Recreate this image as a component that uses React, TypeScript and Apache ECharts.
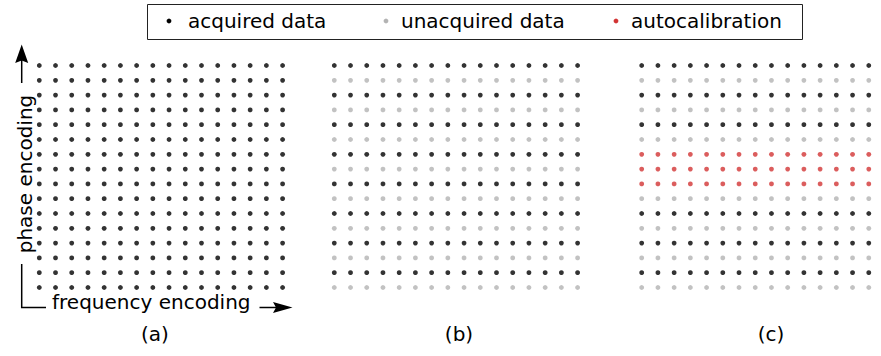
import React, { useEffect, useRef } from "react";
import * as echarts from "echarts";

// Sampling patterns of k-space: one row kind per phase-encoding line (top to bottom).
const ROW_COUNT = 16;
const COLUMN_COUNTS = [16, 16, 15];
const PANEL_LABELS = ["(a)", "(b)", "(c)"];

const FULL_ROWS = [
  "acq", "acq", "acq", "acq", "acq", "acq", "acq", "acq",
  "acq", "acq", "acq", "acq", "acq", "acq", "acq", "acq",
];
const UNDERSAMPLED_ROWS = [
  "acq", "un", "acq", "un", "acq", "un", "acq", "un",
  "acq", "un", "acq", "un", "acq", "un", "acq", "un",
];
const AUTOCAL_ROWS = [
  "acq", "un", "acq", "un", "acq", "un", "cal", "cal",
  "cal", "un", "acq", "un", "acq", "un", "acq", "un",
];
const PANEL_ROWS = [FULL_ROWS, UNDERSAMPLED_ROWS, AUTOCAL_ROWS];

const KINDS = ["acq", "un", "cal"];
const KIND_NAMES = ["acquired data", "unacquired data", "autocalibration"];
const KIND_COLORS = ["#000000", "#b3b3b3", "#d23434"];

const FONT = "DejaVu Sans";

export default function App() {
  const ref = useRef<HTMLDivElement>(null);

  useEffect(() => {
    if (!ref.current) return;
    const chart = echarts.init(ref.current, undefined, { renderer: "svg" });

    const dx = 16.22;
    const dy = 14.8;
    const firstX = [39.3, 334.3, 641.7];
    const firstY = 65.5;

    const grids = COLUMN_COUNTS.map((n, p) => ({
      left: firstX[p] - dx / 2,
      top: firstY - dy / 2,
      width: n * dx,
      height: ROW_COUNT * dy,
    }));
    const xAxes = COLUMN_COUNTS.map((n, p) => ({
      type: "value",
      gridIndex: p,
      min: -0.5,
      max: n - 0.5,
      show: false,
    }));
    const yAxes = COLUMN_COUNTS.map((_, p) => ({
      type: "value",
      gridIndex: p,
      min: -0.5,
      max: ROW_COUNT - 0.5,
      inverse: true,
      show: false,
    }));

    const series: any[] = [];
    PANEL_ROWS.forEach((rows, p) => {
      KINDS.forEach((kind, k) => {
        const data: number[][] = [];
        rows.forEach((rk, r) => {
          if (rk !== kind) return;
          for (let c = 0; c < COLUMN_COUNTS[p]; c++) data.push([c, r]);
        });
        if (!data.length) return;
        series.push({
          type: "scatter",
          name: KIND_NAMES[k],
          xAxisIndex: p,
          yAxisIndex: p,
          symbol: "circle",
          symbolSize: 4.8,
          itemStyle: { color: KIND_COLORS[k] },
          clip: false,
          silent: true,
          data,
        });
      });
    });

    const textStyle = (text: string, x: number, y: number, align = "left") => ({
      type: "text",
      x,
      y,
      style: {
        text,
        font: `20px "${FONT}"`,
        fill: "#000",
        align,
        verticalAlign: "middle",
      },
    });

    // Legend box with one marker per sample kind
    const legendDotX = [169, 386, 616];
    const legendTextX = [188, 401, 631];
    const legend: any[] = [
      {
        type: "rect",
        shape: { x: 147.5, y: 4.5, width: 655, height: 35 },
        style: { fill: "#fff", stroke: "#222", lineWidth: 1 },
      },
    ];
    KIND_NAMES.forEach((name, k) => {
      legend.push({
        type: "circle",
        shape: { cx: legendDotX[k], cy: 21, r: 2.4 },
        style: { fill: KIND_COLORS[k] },
      });
      legend.push(textStyle(name, legendTextX[k], 21));
    });

    const axisX = 21.7;
    const arrowY = 307.5;
    const guides: any[] = [
      // phase-encoding arrow
      {
        type: "line",
        shape: { x1: axisX, y1: 83, x2: axisX, y2: 58 },
        style: { stroke: "#000", lineWidth: 1.5 },
      },
      {
        type: "polygon",
        shape: {
          points: [
            [axisX, 44.5],
            [axisX - 6.5, 63],
            [axisX, 60.5],
            [axisX + 6.5, 63],
          ],
        },
        style: { fill: "#000" },
      },
      // corner bracket
      {
        type: "polyline",
        shape: {
          points: [
            [axisX, 264],
            [axisX, arrowY],
            [46, arrowY],
          ],
        },
        style: { stroke: "#000", lineWidth: 1.5, fill: "none" },
      },
      // frequency-encoding arrow
      {
        type: "line",
        shape: { x1: 259.5, y1: arrowY, x2: 278, y2: arrowY },
        style: { stroke: "#000", lineWidth: 1.5 },
      },
      {
        type: "polygon",
        shape: {
          points: [
            [292.5, arrowY],
            [273, arrowY - 5.5],
            [276, arrowY],
            [273, arrowY + 5.5],
          ],
        },
        style: { fill: "#000" },
      },
      textStyle("frequency encoding", 52, 302),
      // reads bottom to top, beside the phase-encoding arrow
      {
        type: "text",
        x: 24.5,
        y: 174,
        rotation: Math.PI / 2,
        style: {
          text: "phase encoding",
          font: `20px "${FONT}"`,
          fill: "#000",
          align: "center",
          verticalAlign: "middle",
        },
      },
    ];

    const labelX = [155, 459, 771];
    const labels = PANEL_LABELS.map((t, p) => textStyle(t, labelX[p], 334, "center"));

    chart.setOption({
      animation: false,
      backgroundColor: "#ffffff",
      grid: grids,
      xAxis: xAxes,
      yAxis: yAxes,
      series,
      graphic: [...legend, ...guides, ...labels],
    });

    return () => chart.dispose();
  }, []);

  return (
    <div
      ref={ref}
      style={{ position: "absolute", left: 0, top: 0, width: 881, height: 356 }}
    />
  );
}
